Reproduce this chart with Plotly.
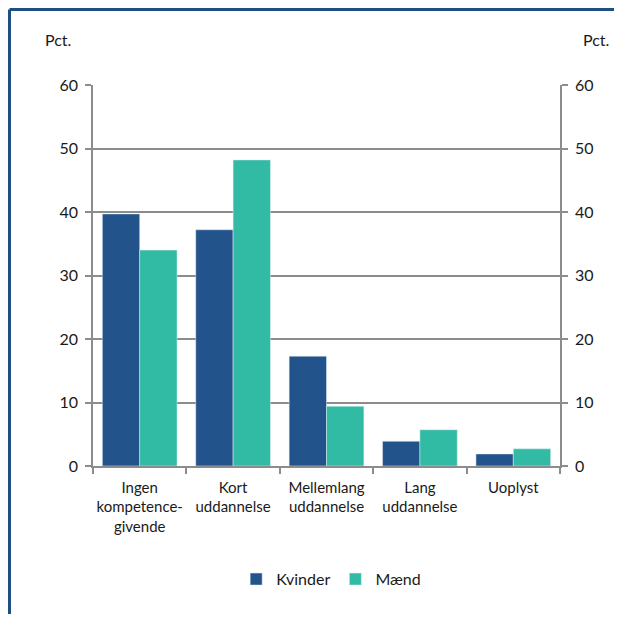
import plotly.graph_objects as go

# data
kategorier = ["Ingen<br>kompetence-<br>givende", "Kort<br>uddannelse", "Mellemlang<br>uddannelse",
              "Lang<br>uddannelse", "Uoplyst"]
kvinder = [39.7, 37.2, 17.3, 3.9, 1.9]
maend = [34.0, 48.2, 9.4, 5.7, 2.7]

blaa = "#23538b"
groen = "#31bba4"
graa = "#8c8c8c"
font = "Lato"

# siden har 8 px margin, så figuren gøres lidt mindre
W, H = 614, 606
ml, mt = 85, 77
pw, ph = 467, 381
mr, mb = W - ml - pw, H - mt - ph

fig = go.Figure()
fig.add_bar(x=kategorier, y=kvinder, name="Kvinder", marker_color=blaa)
fig.add_bar(x=kategorier, y=maend, name="Mænd", marker_color=groen)
# usynlig serie så højre akse tegnes
fig.add_scatter(x=kategorier, y=kvinder, yaxis="y2", mode="markers",
                marker=dict(opacity=0), showlegend=False, hoverinfo="skip")

akse = dict(range=[0, 60], dtick=10, showline=True, linecolor=graa, linewidth=1.5,
            ticks="outside", ticklen=6, tickcolor=graa, tickwidth=1.5, ticklabelstandoff=4,
            tickfont=dict(size=16, color="#1a1a1a", family=font), zeroline=False)

fig.update_layout(
    width=W, height=H,
    margin=dict(l=ml, r=mr, t=mt, b=mb),
    plot_bgcolor="white", paper_bgcolor="white",
    barmode="group", bargap=0.2, bargroupgap=0,
    font=dict(family=font, color="#1a1a1a"),
    xaxis=dict(showline=True, linecolor=graa, linewidth=1.5, ticks="outside",
               tickson="boundaries", ticklen=6, tickcolor=graa, tickwidth=1.5,
               tickangle=0, automargin=False, ticklabelstandoff=7,
               tickfont=dict(size=15, family=font, color="#1a1a1a")),
    yaxis=dict(**akse, showgrid=True, gridcolor=graa, gridwidth=1.5),
    yaxis2=dict(**akse, overlaying="y", side="right", showgrid=False),
    legend=dict(orientation="h", x=0.51, xanchor="center", y=-0.297, yanchor="middle",
                font=dict(size=16, family=font, color="#1a1a1a"), itemwidth=30,
                traceorder="normal"),
    showlegend=True,
)

fig.add_annotation(text="Pct.", xref="paper", yref="paper", x=(43 - 8 - ml) / pw,
                   xanchor="left", yanchor="middle",
                   y=1 + (mt - (40 - 8)) / ph, showarrow=False, font=dict(size=16))
fig.add_annotation(text="Pct.", xref="paper", yref="paper", x=(603 - ml) / pw,
                   xanchor="right", yanchor="middle",
                   y=1 + (mt - (40 - 8)) / ph, showarrow=False, font=dict(size=16))

# ramme (venstre og top)
fx = (1.5 - ml) / pw
fy = 1 + (mt - 1.5) / ph
fig.add_shape(type="line", xref="paper", yref="paper", x0=fx, x1=fx, y0=-1, y1=fy,
              line=dict(color="#1f4e85", width=3))
fig.add_shape(type="line", xref="paper", yref="paper", x0=fx, x1=2, y0=fy, y1=fy,
              line=dict(color="#1f4e85", width=3))

fig.write_html("out.html")
